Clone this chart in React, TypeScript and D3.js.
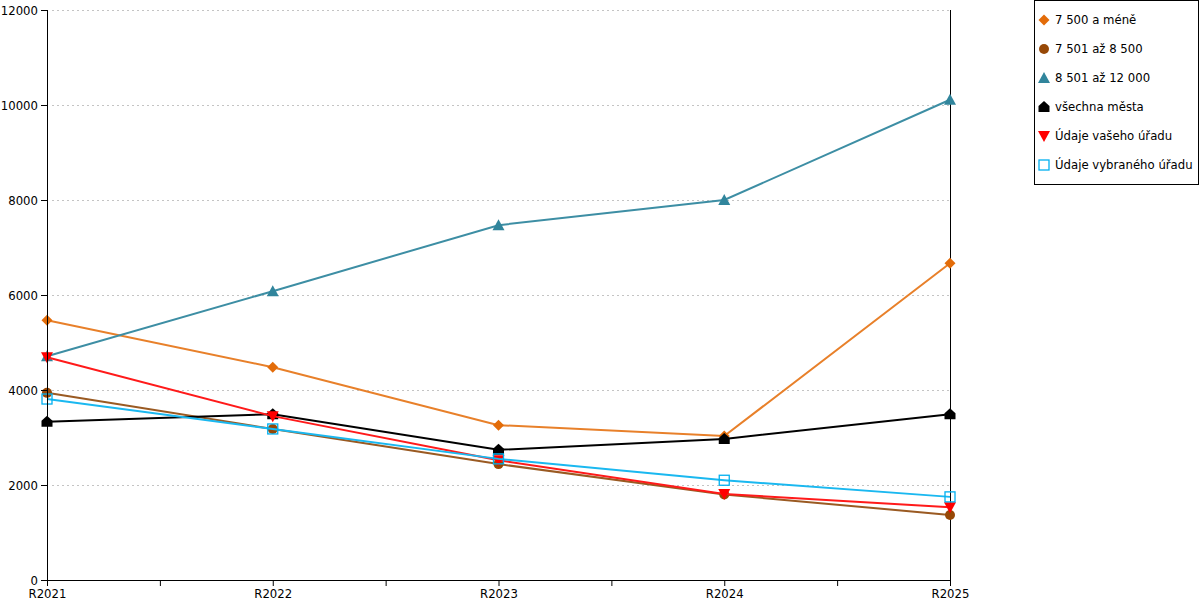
import React from "react";
import * as d3 from "d3";

const categories = ["R2021", "R2022", "R2023", "R2024", "R2025"];

const yTicks = [0, 2000, 4000, 6000, 8000, 10000, 12000];

const seriesNames = [
  "7 500 a méně",
  "7 501 až 8 500",
  "8 501 až 12 000",
  "všechna města",
  "Údaje vašeho úřadu",
  "Údaje vybraného úřadu",
];

const valsSmall = [5470, 4480, 3260, 3030, 6670];
const valsMid = [3940, 3180, 2440, 1800, 1370];
const valsLarge = [4710, 6080, 7470, 8000, 10110];
const valsAll = [3330, 3490, 2740, 2970, 3490];
const valsYours = [4690, 3450, 2520, 1810, 1530];
const valsSelected = [3810, 3180, 2550, 2100, 1750];

const seriesValues = [valsSmall, valsMid, valsLarge, valsAll, valsYours, valsSelected];

const markerColors = ["#e36c09", "#974806", "#31859c", "#000000", "#ff0000", "#00b0f0"];
const lineColors = ["#e8802a", "#9a5a22", "#3d8ea4", "#000000", "#ff1a1a", "#1ab8f0"];
const markerShapes = ["diamond", "circle", "triangle", "house", "down", "square"];

const W = 1200;
const H = 600;
const plot = { left: 47, right: 950, top: 10, bottom: 580 };
const font = "DejaVu Sans, Verdana, sans-serif";
const fs = 11.7;

function Marker({ shape, color, x, y }: { shape: string; color: string; x: number; y: number }) {
  const s = 5.5;
  if (shape === "diamond") {
    return <path d={`M${x},${y - s}L${x + s},${y}L${x},${y + s}L${x - s},${y}Z`} fill={color} />;
  }
  if (shape === "circle") {
    return <circle cx={x} cy={y} r={5} fill={color} />;
  }
  if (shape === "triangle") {
    return <path d={`M${x},${y - 6}L${x + 6},${y + 5}L${x - 6},${y + 5}Z`} fill={color} />;
  }
  if (shape === "house") {
    return (
      <path
        d={`M${x},${y - 6}L${x + 5.5},${y - 1}L${x + 5.5},${y + 5}L${x - 5.5},${y + 5}L${x - 5.5},${y - 1}Z`}
        fill={color}
      />
    );
  }
  if (shape === "down") {
    return <path d={`M${x - 6},${y - 5}L${x + 6},${y - 5}L${x},${y + 6}Z`} fill={color} />;
  }
  return (
    <rect x={x - 5} y={y - 5} width={10} height={10} fill="none" stroke={color} strokeWidth={1.3} />
  );
}

export default function App() {
  const x = d3.scalePoint<string>().domain(categories).range([plot.left, plot.right]);
  const y = d3.scaleLinear().domain([0, 12000]).range([plot.bottom, plot.top]);
  const step = x.step();

  const line = d3
    .line<number>()
    .x((_, i) => x(categories[i]) ?? 0)
    .y((d) => y(d));

  const minorTicks = categories.slice(0, -1).map((c) => (x(c) ?? 0) + step / 2);

  return (
    <svg width={W} height={H} style={{ position: "absolute", left: 0, top: 0 }} fontFamily={font}>
      <rect width={W} height={H} fill="#fff" />

      {/* grid */}
      {yTicks.slice(1).map((t) => (
        <line
          key={t}
          x1={plot.left + 5}
          x2={plot.right}
          y1={y(t) + 0.5}
          y2={y(t) + 0.5}
          stroke="#c4c4c4"
          strokeDasharray="2,3"
        />
      ))}

      {/* right border */}
      <line x1={plot.right + 0.5} x2={plot.right + 0.5} y1={plot.top} y2={plot.bottom} stroke="#000" />

      {/* series */}
      {seriesValues.map((vals, si) => (
        <g key={si}>
          <path d={line(vals) ?? ""} fill="none" stroke={lineColors[si]} strokeWidth={2} />
          {vals.map((v, i) => (
            <Marker key={i} shape={markerShapes[si]} color={markerColors[si]} x={x(categories[i]) ?? 0} y={y(v)} />
          ))}
        </g>
      ))}

      {/* y axis */}
      <line x1={plot.left + 0.5} x2={plot.left + 0.5} y1={plot.top} y2={plot.bottom + 6} stroke="#000" />
      {yTicks.map((t) => (
        <g key={t} transform={`translate(0,${y(t) + 0.5})`}>
          <line x1={plot.left - 6} x2={plot.left} stroke="#000" />
          <text x={plot.left - 9} dy="0.35em" textAnchor="end" fontSize={fs} fill="#000">
            {t}
          </text>
        </g>
      ))}

      {/* x axis */}
      <line x1={plot.left} x2={plot.right + 1} y1={plot.bottom + 0.5} y2={plot.bottom + 0.5} stroke="#000" />
      {categories.map((c) => (
        <g key={c} transform={`translate(${(x(c) ?? 0) + 0.5},0)`}>
          <line y1={plot.bottom} y2={plot.bottom + 6} stroke="#000" />
          <text y={plot.bottom + 18} textAnchor="middle" fontSize={fs} fill="#000">
            {c}
          </text>
        </g>
      ))}
      {minorTicks.map((m, i) => (
        <line key={i} x1={m + 0.5} x2={m + 0.5} y1={plot.bottom} y2={plot.bottom + 6} stroke="#000" />
      ))}

      {/* legend */}
      <rect x={1034.5} y={0.5} width={164} height={184} fill="#fff" stroke="#000" />
      {seriesNames.map((n, i) => {
        const ly = 20 + i * 29;
        return (
          <g key={n}>
            <Marker shape={markerShapes[i]} color={markerColors[i]} x={1044} y={ly} />
            <text x={1055} y={ly} dy="0.35em" fontSize={fs} fill="#000">
              {n}
            </text>
          </g>
        );
      })}
    </svg>
  );
}
